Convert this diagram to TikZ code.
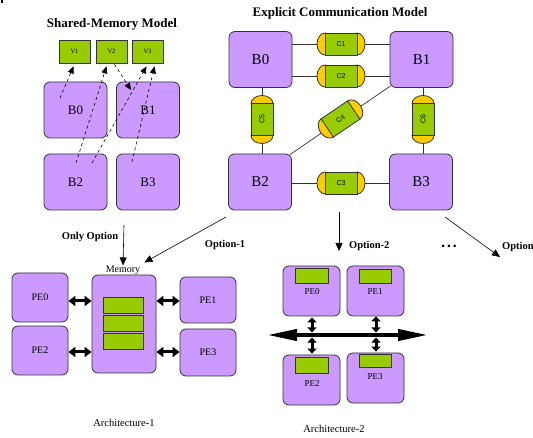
\documentclass[tikz,border=0pt]{standalone}
\usepackage{fontspec}
\setmainfont{Liberation Serif}
\newfontfamily\capfont{Liberation Sans}
\usetikzlibrary{arrows.meta,backgrounds,calc}
\definecolor{lav}{HTML}{CC99FF}
\definecolor{grn}{HTML}{99CC00}
\definecolor{yel}{HTML}{FFCC00}
\definecolor{edgec}{HTML}{333333}
\tikzset{
  blk/.style={draw=edgec, fill=lav, rounded corners=6pt, line width=0.8pt, inner sep=0pt},
  bigB/.style={blk, minimum width=63pt, minimum height=56pt, font=\fontsize{15}{15}\selectfont},
  smB/.style={blk, minimum width=63pt, minimum height=56pt, font=\fontsize{13}{13}\selectfont},
  pebox/.style={blk, minimum width=56pt, font=\fontsize{10}{10}\selectfont},
  gbox/.style={draw=edgec, fill=grn, line width=0.8pt, inner sep=0pt},
  vbox/.style={gbox, minimum width=31pt, minimum height=23pt, font=\fontsize{6.5}{6.5}\selectfont},
  capbox/.style={gbox, minimum width=32pt, minimum height=22pt, font=\capfont\fontsize{7}{7}\selectfont},
  capend/.style={fill=yel, draw=edgec, line width=0.8pt},
  conn/.style={draw=edgec, line width=0.7pt},
  dsh/.style={dashed, dash pattern=on 3pt off 3pt, line width=0.6pt, -{Triangle[length=7pt,width=6pt]}},
  optarr/.style={line width=0.6pt, -{Triangle[length=8pt,width=7pt]}},
  fatarr/.style={line width=3pt, {Triangle[length=7pt,width=10pt]}-{Triangle[length=7pt,width=10pt]}},
  lbl/.style={font=\bfseries\fontsize{10.5}{10.5}\selectfont, inner sep=0pt},
  ttl/.style={font=\bfseries\fontsize{13}{13}\selectfont, inner sep=0pt},
  captxt/.style={font=\fontsize{10.5}{10.5}\selectfont, inner sep=0pt}
}
\newcommand\capsl[4]{%
  \begin{scope}[shift={#2}, rotate=#3]
    \filldraw[capend] (-16,0) ellipse [x radius=8, y radius=11];
    \filldraw[capend] (16,0) ellipse [x radius=8, y radius=11];
    \node[capbox, rotate=#3] (#1) at (0,0) {#4};
  \end{scope}}
\begin{document}
\begin{tikzpicture}[x=1pt, y=-1pt]
\useasboundingbox (0,0) rectangle (533,438);
\draw[line width=1.2pt] (2,0) -- (2,3);

% ---------------- Shared-memory model
\node[ttl] (t1) at (112,24) {Shared-Memory Model};
\node[vbox] (V1) at (74.5,51.5) {V1};
\node[vbox] (V2) at (111.5,51.5) {V2};
\node[vbox] (V3) at (147.5,51.5) {V3};
\node[smB] (sB0) at (75.5,110) {B0};
\node[smB] (sB1) at (148,110) {B1};
\node[smB] (sB2) at (75.5,182) {B2};
\node[smB] (sB3) at (148,182) {B3};
\coordinate (d1) at (60,98);
\coordinate (d2) at (76,163);
\coordinate (d3) at (92,163);
\coordinate (d4) at (132,162);
\coordinate (d5) at (131,90);
\draw[dsh] (d1) -- ($(V1.south)+(-1,3)$);
\draw[dsh] (d2) -- ($(V2.south)+(-5,3)$);
\draw[dsh] ($(V2.south)+(3,1)$) -- (d5);
\draw[dsh] (d3) -- ($(V3.south)+(-1,3)$);
\draw[dsh] (d4) -- ($(V3.south)+(7,3)$);

% ---------------- Explicit communication model
\node[ttl] (t2) at (340,13) {Explicit Communication Model};
\node[bigB] (B0) at (260.5,59.5) {B0};
\node[bigB] (B1) at (421.5,59.5) {B1};
\node[bigB] (B2) at (260,182) {B2};
\node[bigB] (B3) at (421,182) {B3};
\capsl{C1}{(341,44)}{0}{C1}
\capsl{C2}{(341,76)}{0}{C2}
\capsl{C3}{(341,183)}{0}{C3}
\capsl{C5}{(262,119.5)}{90}{C5}
\capsl{C6}{(423,119.5)}{90}{C6}
\capsl{C4}{(340.5,119)}{34}{C4}
\begin{scope}[on background layer]
  \draw[conn] (B0.east |- C1) -- (B1.west |- C1);
  \draw[conn] (B0.east |- C2) -- (B1.west |- C2);
  \draw[conn] (B2.east |- C3) -- (B3.west |- C3);
  \draw[conn] (B0.south -| C5) -- (B2.north -| C5);
  \draw[conn] (B1.south -| C6) -- (B3.north -| C6);
  \draw[conn] ($(B2.north east)+(-2,1)$) -- ($(B1.south west)+(1,-2)$);
\end{scope}

% ---------------- options
\coordinate (o0s) at (124,225);
\coordinate (o1s) at (226,217);
\coordinate (o2s) at (339,212);
\coordinate (o2e) at (339,251);
\coordinate (o3s) at (445,217);
\coordinate (o3e) at (500,257);
\node[captxt, font=\fontsize{10}{10}\selectfont] (mem) at (123,270) {Memory};
\draw[optarr] (o0s) -- (mem.north);
\draw[optarr] (o1s) -- ($(mem.north east)+(4,-3)$);
\draw[optarr] (o2s) -- (o2e);
\draw[optarr] (o3s) -- (o3e);
\node[lbl] (l0) at (90,237) {Only Option};
\node[lbl] (l1) at (225,245) {Option-1};
\node[lbl, anchor=west] (l2) at (349,246) {Option-2};
\node[lbl, anchor=west] (l3) at (502,247) {Option};
\node[lbl, font=\bfseries\fontsize{9.5}{9.5}\selectfont] (dots) at (449,247) {\textbullet\ \textbullet\ \textbullet};

% ---------------- Architecture-1
\node[blk, minimum width=64pt, minimum height=98pt] (M) at (124,324) {};
\node[gbox, minimum width=40pt, minimum height=16pt] (m1) at (123,305) {};
\node[gbox, minimum width=40pt, minimum height=16pt] (m2) at (123,323) {};
\node[gbox, minimum width=40pt, minimum height=16pt] (m3) at (123,341) {};
\node[pebox, minimum height=49pt] (aPE0) at (40,297.5) {PE0};
\node[pebox, minimum height=49pt] (aPE2) at (40,350.5) {PE2};
\node[pebox, minimum height=46pt] (aPE1) at (208,300) {PE1};
\node[pebox, minimum height=47pt] (aPE3) at (208,352.5) {PE3};
\draw[fatarr] (aPE0.east |- 0,301) -- (M.west |- 0,301);
\draw[fatarr] (aPE2.east |- 0,352) -- (M.west |- 0,352);
\draw[fatarr] (M.east |- 0,301) -- (aPE1.west |- 0,301);
\draw[fatarr] (M.east |- 0,352) -- (aPE3.west |- 0,352);
\node[captxt] (a1) at (124,423) {Architecture-1};

% ---------------- Architecture-2
\node[pebox, minimum width=57pt, minimum height=50pt] (bPE0) at (311.5,291) {};
\node[pebox, minimum width=57pt, minimum height=50pt] (bPE1) at (375.5,291) {};
\node[pebox, minimum width=57pt, minimum height=50pt] (bPE2) at (311.5,380) {};
\node[pebox, minimum width=57pt, minimum height=50pt] (bPE3) at (375.5,378) {};
\node[gbox, minimum width=33pt, minimum height=15pt] (g0) at (311.5,275.5) {};
\node[gbox, minimum width=32pt, minimum height=14pt] (g1) at (375,276) {};
\node[gbox, minimum width=33pt, minimum height=16pt] (g2) at (311.5,365) {};
\node[gbox, minimum width=32pt, minimum height=13pt] (g3) at (375,360.5) {};
\node[captxt, font=\fontsize{9}{9}\selectfont] (p0) at (312,292) {PE0};
\node[captxt, font=\fontsize{9}{9}\selectfont] (p1) at (375,292) {PE1};
\node[captxt, font=\fontsize{9}{9}\selectfont] (p2) at (312,384) {PE2};
\node[captxt, font=\fontsize{9}{9}\selectfont] (p3) at (375,377) {PE3};
\coordinate (busL) at (267,335);
\coordinate (busR) at (428,335);
\draw[line width=4pt, {Triangle[length=30pt,width=11pt]}-{Triangle[length=30pt,width=11pt]}] (busL) -- (busR);
\tikzset{vfat/.style={line width=3pt, {Triangle[length=5pt,width=9pt]}-{Triangle[length=5pt,width=9pt]}}}
\draw[vfat] ($(bPE0.south)+(0.5,1)$) -- ($(bPE0.south)+(0.5,16)$);
\draw[vfat] ($(bPE2.north)+(0.5,-17)$) -- ($(bPE2.north)+(0.5,-1)$);
\draw[vfat] ($(bPE1.south)+(0.5,0)$) -- ($(bPE1.south)+(0.5,16)$);
\draw[vfat] ($(bPE3.north)+(0.5,-15)$) -- ($(bPE3.north)+(0.5,-1)$);
\node[captxt] (a2) at (334,429) {Architecture-2};
\end{tikzpicture}
\end{document}
